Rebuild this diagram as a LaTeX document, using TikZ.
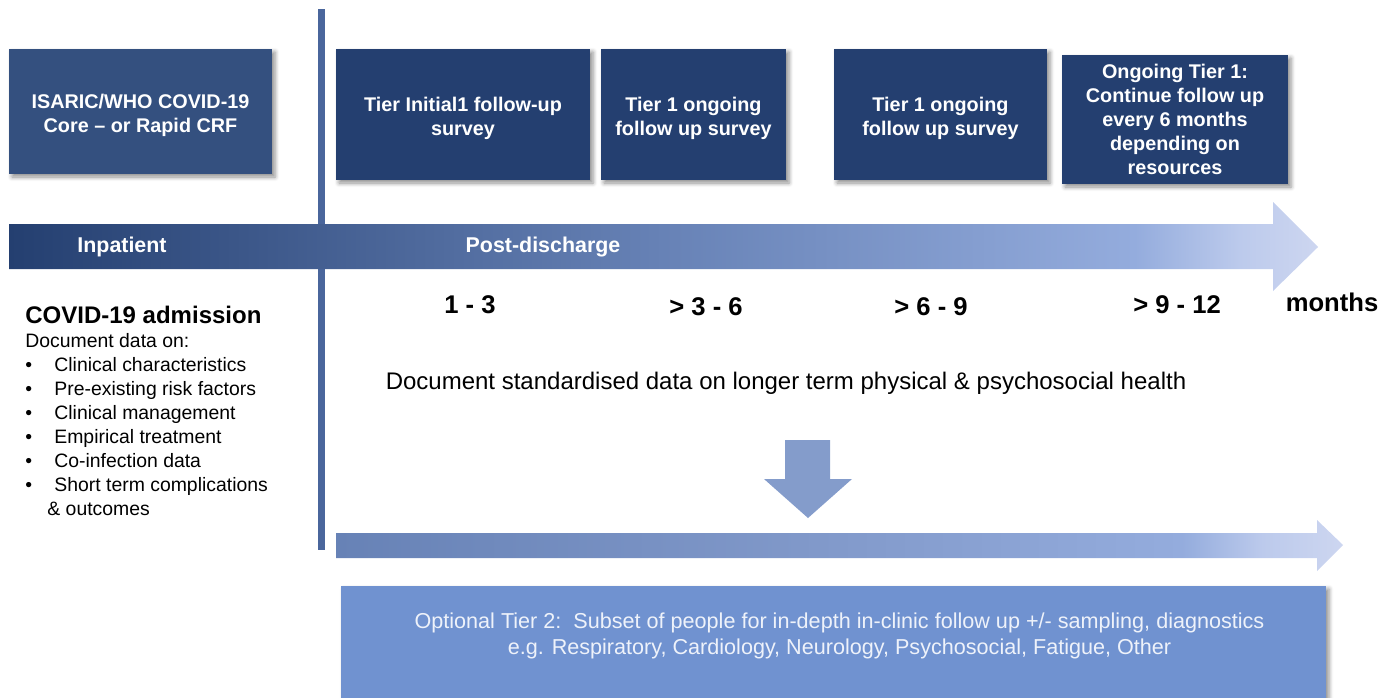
\documentclass[tikz,border=0pt]{standalone}
\usepackage{fontspec}
\setmainfont{Liberation Sans}
\usepackage{tikz}
\usetikzlibrary{positioning, calc, shadows.blur}
\usepackage{xcolor}

\definecolor{tierdark}{RGB}{36,63,112}
\definecolor{coreblue}{RGB}{52,80,127}
\definecolor{lineblue}{RGB}{74,102,156}
\definecolor{midblue}{RGB}{103,130,182}
\definecolor{brightblue}{RGB}{148,172,221}
\definecolor{softblue}{RGB}{188,202,236}
\definecolor{paleblue}{RGB}{205,214,240}
\definecolor{tierblue}{RGB}{128,152,201}
\definecolor{downblue}{RGB}{132,156,203}
\definecolor{optblue}{RGB}{112,146,208}
\definecolor{opttext}{RGB}{238,242,250}

% time arrow gradients (path mapped onto 25bp--75bp)
\pgfdeclarehorizontalshading{timeshade}{100bp}{color(0bp)=(tierdark); color(25bp)=(tierdark);
  color(50bp)=(midblue); color(68bp)=(brightblue); color(72bp)=(softblue); color(75bp)=(paleblue); color(100bp)=(paleblue)}
\pgfdeclarehorizontalshading{tiershade}{100bp}{color(0bp)=(midblue); color(25bp)=(midblue);
  color(48bp)=(tierblue); color(67bp)=(brightblue); color(71bp)=(softblue); color(75bp)=(paleblue); color(100bp)=(paleblue)}

\begin{document}
\begin{tikzpicture}[x=0.5pt, y=-0.5pt,
    tierbox/.style={rectangle, fill=tierdark, text=white, align=center,
      font=\fontsize{9.9}{12}\selectfont\bfseries,
      blur shadow={shadow xshift=1.5pt, shadow yshift=-1.5pt, shadow blur steps=4, shadow opacity=45}},
    lowtext/.style={text height=23.3pt},
    monthlbl/.style={font=\fontsize{12.8}{14}\selectfont\bfseries},
    phaselbl/.style={text=white, font=\fontsize{10.7}{13}\selectfont\bfseries}]

      \useasboundingbox (0,0) rectangle (1395,697);

      % inpatient / post-discharge divider
      \fill[lineblue] (318,9) rectangle (325,550);

      % main time arrow
      \shade[shading=timeshade]
        (9,224) -- (1273,224) -- (1273,202) -- (1318,247) -- (1273,291) -- (1273,269) -- (9,269) -- cycle;
      \node[phaselbl] (inpat) at (122,247) {Inpatient};
      \node[phaselbl] (postdis) at (543,247) {Post-discharge};

      % data collection boxes
      \node[tierbox, lowtext, fill=coreblue, minimum width=131.5pt, minimum height=62.5pt] (core) at (140.5,111.5)
        {ISARIC/WHO COVID-19\\Core -- or Rapid CRF};
      \node[tierbox, lowtext, minimum width=127pt, minimum height=65.5pt] (tierA) at (463,114.5)
        {Tier Initial1 follow-up\\survey};
      \node[tierbox, lowtext, minimum width=92.5pt, minimum height=65.5pt] (tierB) at (693.5,114.5)
        {Tier 1 ongoing\\follow up survey};
      \node[tierbox, lowtext, minimum width=106.5pt, minimum height=65.5pt] (tierC) at (940.5,114.5)
        {Tier 1 ongoing\\follow up survey};
      \node[tierbox, minimum width=113pt, minimum height=64.5pt] (tierD) at (1175,119.5)
        {Ongoing Tier 1:\\Continue follow up\\every 6 months\\depending on\\resources};

      % months
      \node[monthlbl] (m1) at (470,305) {1 - 3};
      \node[monthlbl] (m2) at (706,307) {> 3 - 6};
      \node[monthlbl] (m3) at (931,307) {> 6 - 9};
      \node[monthlbl] (m4) at (1177,305) {> 9 - 12};
      \node[monthlbl] (munit) at (1332,302) {months};

      % admission data
      \node[anchor=west, inner sep=0pt, font=\fontsize{12}{14}\selectfont\bfseries] (admit) at (25,315) {COVID-19 admission};
      \node[anchor=north west, align=left, inner sep=0pt, font=\fontsize{9.7}{12}\selectfont] (admitlist) at (25,333)
        {Document data on:\\
         \makebox[14.5pt][l]{\textbullet}Clinical characteristics\\
         \makebox[14.5pt][l]{\textbullet}Pre-existing risk factors\\
         \makebox[14.5pt][l]{\textbullet}Clinical management\\
         \makebox[14.5pt][l]{\textbullet}Empirical treatment\\
         \makebox[14.5pt][l]{\textbullet}Co-infection data\\
         \makebox[14.5pt][l]{\textbullet}Short term complications\\
         \hspace{11pt}\& outcomes};

      \node[font=\fontsize{12}{14}\selectfont] (docdata) at (786,383)
        {Document standardised data on longer term physical \& psychosocial health};

      % down arrow
      \fill[downblue] (785,440) -- (830,440) -- (830,479) -- (852,479) -- (808,518) -- (764,479) -- (785,479) -- cycle;

      % tier 2 arrow
      \shade[shading=tiershade]
        (336,533) -- (1317,533) -- (1317,520) -- (1343,545) -- (1317,571) -- (1317,558) -- (336,558) -- cycle;

      % optional tier 2
      \node[rectangle, fill=optblue, minimum width=492.5pt, minimum height=56pt,
        blur shadow={shadow xshift=1.5pt, shadow yshift=-1.5pt, shadow blur steps=4, shadow opacity=45}] (tiertwo) at (833.5,642) {};
      \node[text=opttext, align=center, font=\fontsize{10.8}{13}\selectfont] (tiertwotxt) at ($(tiertwo.center)+(6,-6)$)
        {Optional Tier 2:\ \ Subset of people for in-depth in-clinic follow up +/- sampling, diagnostics\\
         e.g. Respiratory, Cardiology, Neurology, Psychosocial, Fatigue, Other};

    \end{tikzpicture}
\end{document}
